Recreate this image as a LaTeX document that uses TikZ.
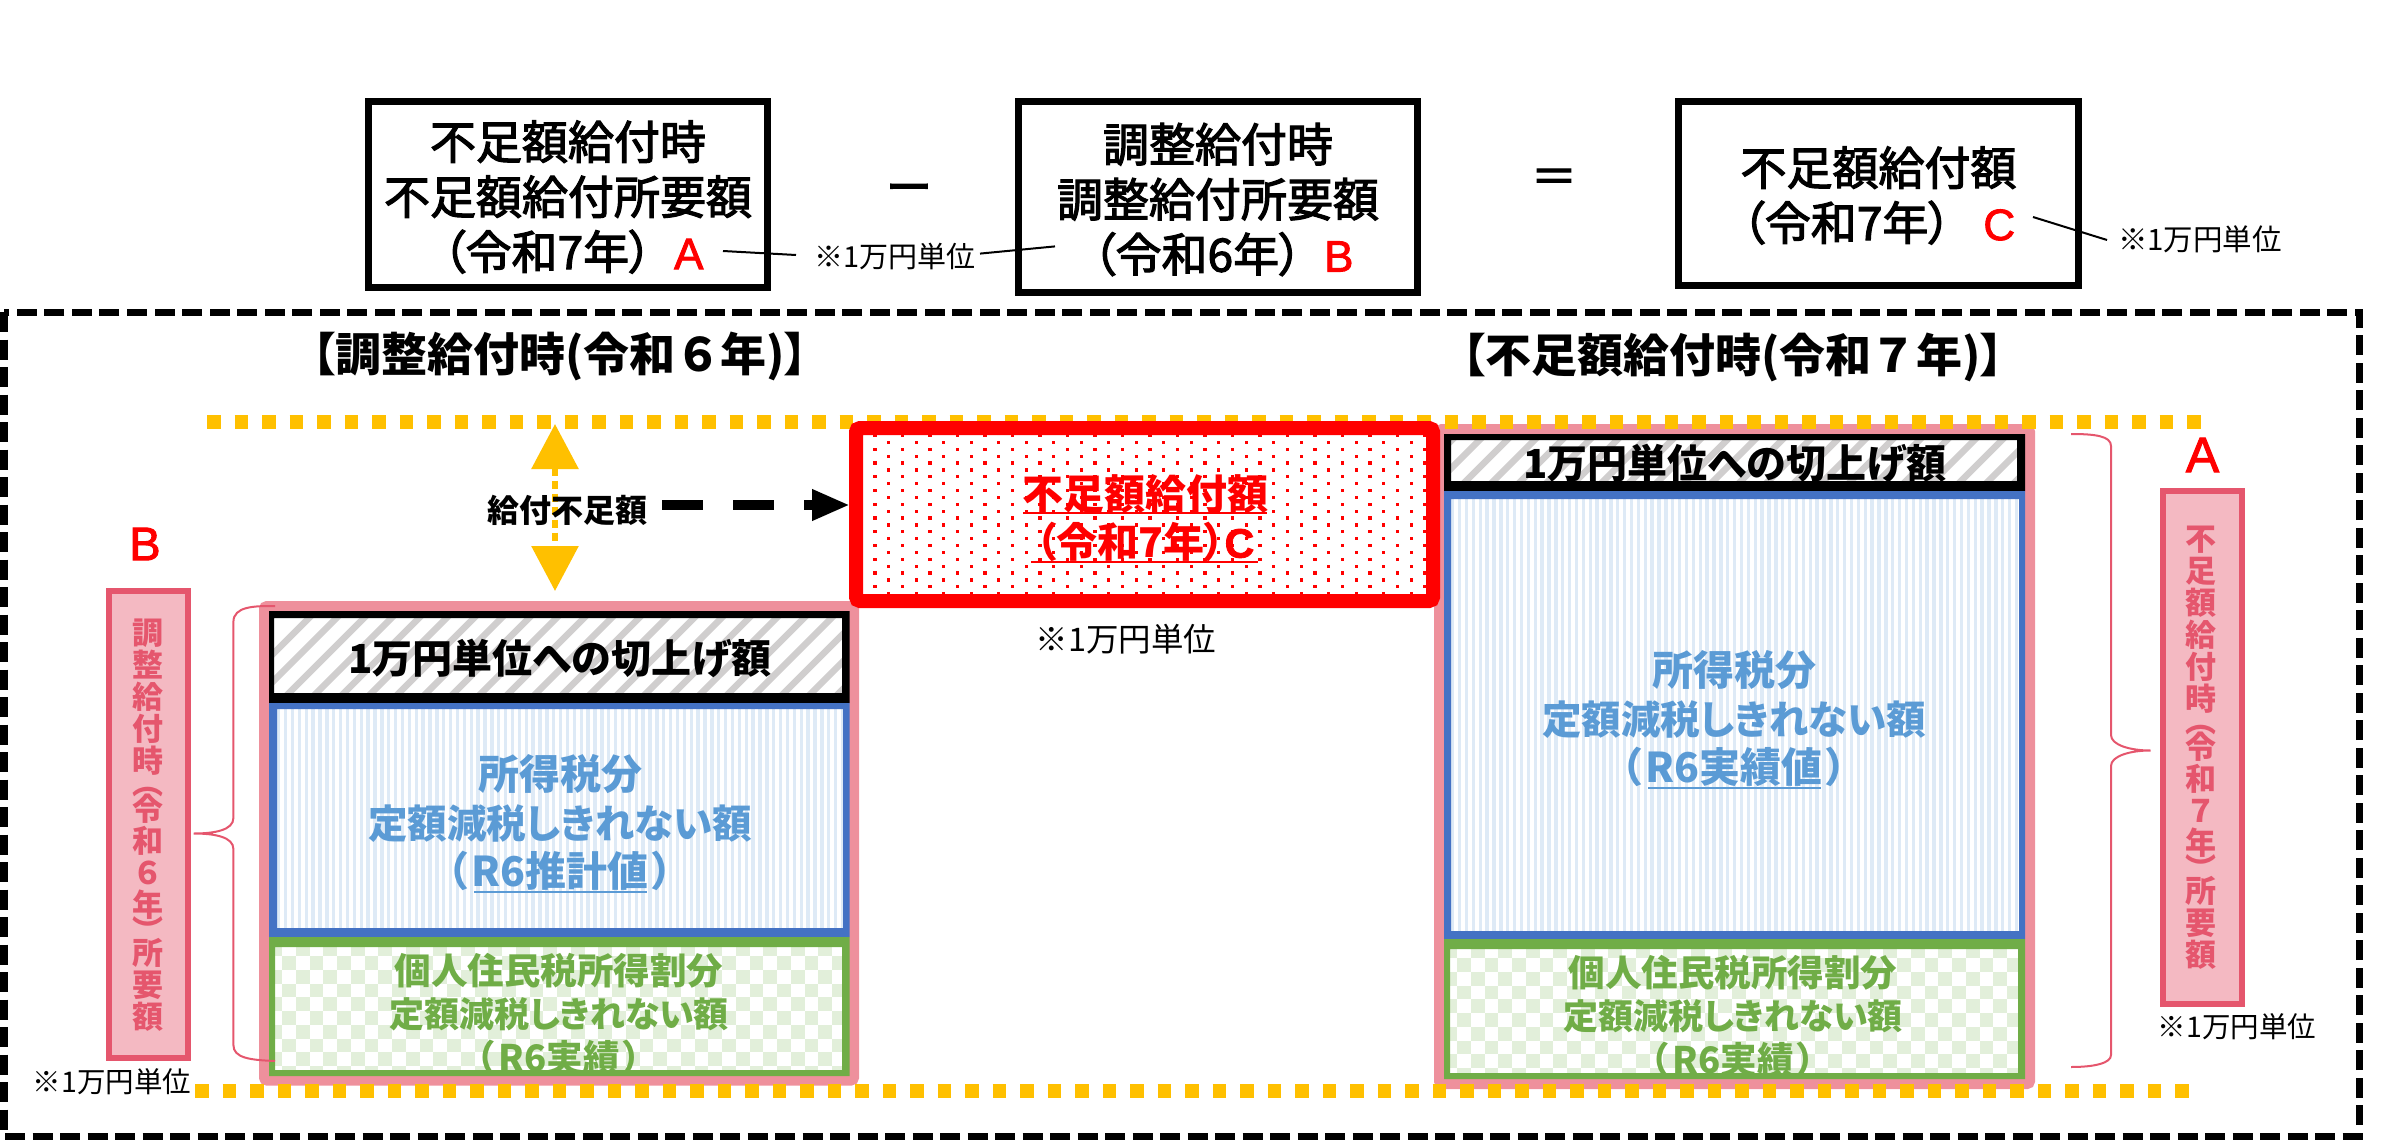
\documentclass[tikz,border=0pt]{standalone}
\usepackage{fontspec}
\usetikzlibrary{arrows.meta}
\setmainfont[RawFeature=+palt]{Noto Sans CJK JP}
\newfontfamily\vfont{Noto Sans CJK JP}
\newfontfamily\medf[RawFeature=+palt,FakeBold=2.5]{Noto Sans CJK JP}
\newfontfamily\lat{Liberation Sans}
\newfontfamily\latb[FakeBold=2]{Liberation Sans}
\definecolor{pinkF}{HTML}{EE909C}
\definecolor{rose}{HTML}{E5566D}
\definecolor{roseL}{HTML}{F4B9C2}
\definecolor{gold}{HTML}{FFC000}
\definecolor{blueF}{HTML}{4472C4}
\definecolor{blueT}{HTML}{5B9BD5}
\definecolor{blueL}{HTML}{DEEAF6}
\definecolor{greenF}{HTML}{70AD47}
\definecolor{greenL}{HTML}{E2EFDA}
\definecolor{hatch}{HTML}{D0CECE}
\newcommand{\fs}[2]{\fontsize{#1}{#2}\selectfont}
\newcommand{\frameit}[9]{\fill[#1,even odd rule] (#2,#3) rectangle (#4,#5) (#6,#7) rectangle (#8,#9);}
\newcommand{\vstripes}[4]{\begin{scope}\clip (#1,#2) rectangle (#3,#4);
  \foreach \i in {0,...,90} \fill[blueL] (#1+\i*6.875,#2) rectangle ++(3.44,#4-#2);\end{scope}}
\newcommand{\diag}[4]{\begin{scope}\clip (#1,#2) rectangle (#3,#4);
  \foreach \i in {0,...,26} \draw[hatch,line width=6.5pt] (#1-60+\i*27.5,#4+20) -- ++(100,-100);\end{scope}}
\newcommand{\checks}[6]{\begin{scope}\clip (#1,#2) rectangle (#3,#4);
  \foreach \j in {0,2,...,12} \foreach \i in {0,2,...,46}
    \fill[greenL] (#5+\i*13.75,#6+\j*13.75) rectangle ++(13.75,13.75);
  \foreach \j in {1,3,...,11} \foreach \i in {1,3,...,45}
    \fill[greenL] (#5+\i*13.75,#6+\j*13.75) rectangle ++(13.75,13.75);\end{scope}}
\newcommand{\redl}[1]{{\latb\color{red}\fs{44}{55}#1}}
\tikzset{
  topbox/.style={draw=black,line width=7pt,inner sep=0pt,outer sep=0pt},
  toptext/.style={inner sep=0pt,align=center,font=\medf\fs{46}{55}},
  note/.style={inner sep=0pt,font=\fs{#1}{30}},
  callout/.style={black,line width=2pt},
  head/.style={inner sep=0pt,font=\bfseries\fs{46}{50}},
  tag/.style={draw=rose,fill=roseL,line width=6pt,inner sep=0pt},
  vtext/.style={inner sep=0pt,align=center,text=rose,font=\vfont\bfseries\fs{31}{32}},
  bigl/.style={inner sep=0pt,text=red,font=\latb\fs{50}{50}},
  brace/.style={rose,line width=2pt},
  blk/.style={inner sep=0pt,align=center,font=\bfseries\fs{40}{48}},
  bluet/.style={inner sep=0pt,align=center,text=blueT,font=\bfseries\fs{41}{48.5}},
  greent/.style={inner sep=0pt,align=center,text=greenF,font=\bfseries\fs{36.5}{43.5}},
  goldline/.style={gold,line width=14pt,dash pattern=on 13.75pt off 13.75pt},
}
\begin{document}
\begin{tikzpicture}[x=1pt,y=-1pt]
\useasboundingbox (0,0) rectangle (2399,1140);
% top formula
\node[topbox,minimum width=399pt,minimum height=186pt] (boxA) at (568,194.5) {};
\node[toptext] (tA) at (568,197) {不足額給付時\\不足額給付所要額\\\hspace{10pt}（令和7年）\hspace{22pt}\redl{A}};
\node[topbox,minimum width=399pt,minimum height=191pt] (boxB) at (1218,197) {};
\node[toptext] (tB) at (1218,199.5) {調整給付時\\調整給付所要額\\\hspace{10pt}（令和6年）\hspace{22pt}\redl{B}};
\node[topbox,minimum width=400pt,minimum height=184pt] (boxC) at (1878.5,193.5) {};
\node[toptext] (tC) at (1878.5,195.5) {不足額給付額\\（令和7年）\hspace{32pt}\redl{C}};
\node[inner sep=0pt,font=\medf\fs{46}{50}] (minus) at (909,194) {ー};
\node[inner sep=0pt,font=\medf\fs{46}{50}] (equal) at (1554,181) {＝};
\node[note=29] (noteAB) at (895,256) {※1万円単位};
\node[note=29.5] (noteC) at (2200,239) {※1万円単位};
\coordinate (aFrom) at (723,251); \coordinate (aTo) at (796,255);
\coordinate (bFrom) at (980,253.6); \coordinate (bTo) at (1055,246.4);
\coordinate (cFrom) at (2033,217); \coordinate (cTo) at (2107,240);
\draw[callout] (aFrom) -- (aTo);
\draw[callout] (bFrom) -- (bTo);
\draw[callout] (cFrom) -- (cTo);
% outer dashed frame
\draw[black,line width=7pt,dash pattern=on 20pt off 7.5pt] (4,312) rectangle (2359,1136);
\node[head] (headL) at (560,356) {【調整給付時(令和\hspace{5pt}６\hspace{5pt}年)】};
\node[head] (headR) at (1733,357) {【不足額給付時(令和\hspace{5pt}７\hspace{5pt}年)】};
% pink frames
\draw[pinkF,line width=10pt,rounded corners=3pt] (264,606) rectangle (854,1080.5);
\draw[pinkF,line width=10pt,rounded corners=3pt] (1439,429) rectangle (2030,1084);
% gold lines
\draw[goldline] (207,422) -- (2201,422);
\draw[goldline] (195,1091) -- (2190,1091);
% red box
\node[draw=red,line width=14pt,rounded corners=4pt,minimum width=577pt,minimum height=173pt,inner sep=0pt,outer sep=0pt] (redbox) at (1144.5,514.5) {};
\begin{scope}
\clip (863,435) rectangle (1426.5,594);
\foreach \j in {0,2,...,24} \foreach \i in {0,...,21}
  \fill[red] (873.4+\i*27.5,433.95+\j*6.875) rectangle ++(3.2,3.2);
\foreach \j in {1,3,...,23} \foreach \i in {0,...,21}
  \fill[red] (887.15+\i*27.5,433.95+\j*6.875) rectangle ++(3.2,3.2);
\end{scope}
\node[inner sep=0pt,text=red,font=\bfseries\fs{41}{48}] (redA) at (1145,494) {不足額給付額};
\node[inner sep=0pt,text=red,font=\bfseries\fs{41}{48}] (redB) at (1145,542) {（令和7年）{\latb C}};
\draw[red,line width=2pt] (1023,513) -- (1267,513);
\draw[red,line width=2pt] (1031,562) -- (1258,562);
\node[note=32.5] (noteRed) at (1126,639) {※1万円単位};
% shortage arrows
\coordinate (gTop) at (555,424); \coordinate (gBot) at (555,591);
\draw[gold,line width=6pt,dash pattern=on 8pt off 5pt,{Triangle[width=46pt,length=45pt]}-{Triangle[width=46pt,length=45pt]}] (gTop) -- (gBot);
\node[inner sep=0pt,font=\bfseries\fs{32}{34}] (short) at (567,510) {給付不足額};
\coordinate (bkStart) at (662,505);
\draw[black,line width=10.5pt,dash pattern=on 41pt off 30pt,-{Triangle[width=29pt,length=38pt]},shorten >=6pt] (bkStart) -- (redbox.west |- bkStart);
% left stack
\vstripes{277}{709}{843}{928}
\diag{274}{618}{842}{693}
\checks{275}{947}{842}{1070}{268.25}{942.25}
\node[blk] (lH) at (560,658) {1万円単位への切上げ額};
\node[bluet] (lB) at (560,823) {所得税分\\{\fs{39.5}{48.5}定額減税しきれない額}\\（\hspace{4pt}R6推計値\hspace{4pt}）};
\draw[blueT,line width=2pt] (474,892) -- (647,892);
\node[greent,anchor=north] (lG) at (559,953) {個人住民税所得割分\\{\fs{35}{43.5}定額減税しきれない額}\\（\hspace{4pt}R6実績\hspace{4pt}）};
\frameit{black}{269}{611}{849.5}{703}{274}{618}{842}{693}
\frameit{blueF}{269}{703}{849.5}{937}{277}{709}{843}{928}
\frameit{greenF}{269}{937}{849.5}{1076}{275}{947}{842}{1070}
% right stack
\vstripes{1451}{499}{2019}{931}
\diag{1451}{440}{2017}{481}
\checks{1450}{949}{2018}{1073}{1443.25}{944.25}
\node[blk] (rH) at (1735,463) {1万円単位への切上げ額};
\node[bluet] (rB) at (1734,719) {所得税分\\{\fs{39.5}{48.5}定額減税しきれない額}\\（\hspace{4pt}R6実績値\hspace{4pt}）};
\draw[blueT,line width=2pt] (1648,788) -- (1821,788);
\node[greent,anchor=north] (rG) at (1733,955) {個人住民税所得割分\\{\fs{35}{43.5}定額減税しきれない額}\\（\hspace{4pt}R6実績\hspace{4pt}）};
\frameit{black}{1444}{434}{2025}{491}{1451}{440}{2017}{481}
\frameit{blueF}{1444}{491}{2025}{939}{1451}{499}{2019}{931}
\frameit{greenF}{1444}{939}{2025}{1079}{1450}{949}{2018}{1073}
% side labels
\node[tag,minimum width=79pt,minimum height=467pt] (tagL) at (148.5,824.5) {};
\node[vtext] (tagLt) at (148,825) {調\\整\\給\\付\\時\\[-10pt]︵\\[-6pt]令\\和\\６\\年\\[-6pt]︶\\[-10pt]所\\要\\額};
\node[bigl,font=\latb\fs{47}{47}] (bigB) at (145,544) {B};
\node[note=28.5] (noteL) at (112,1082) {※1万円単位};
\node[tag,minimum width=79pt,minimum height=513pt] (tagR) at (2202.5,747.5) {};
\node[vtext] (tagRt) at (2201,747.5) {不\\足\\額\\給\\付\\時\\[-10pt]︵\\[-6pt]令\\和\\７\\年\\[-6pt]︶\\[-10pt]所\\要\\額};
\node[bigl] (bigA) at (2202.5,455) {A};
\node[note=28.5] (noteR) at (2237,1027) {※1万円単位};
% braces
\coordinate (bLa) at (275,606); \coordinate (bLb) at (193.6,833.5); \coordinate (bLc) at (275,1061);
\draw[brace] (bLa) .. controls (255,606) and (233.4,606) .. (233.4,622) -- (233.4,818)
  .. controls (233.4,830) and (215,833.5) .. (bLb) .. controls (215,833.5) and (233.4,837) .. (233.4,849)
  -- (233.4,1045) .. controls (233.4,1058) and (250,1060) .. (bLc);
\coordinate (bRa) at (2071,434); \coordinate (bRb) at (2150.5,750.5); \coordinate (bRc) at (2071,1067);
\draw[brace] (bRa) .. controls (2095,434) and (2111,436) .. (2111,446) -- (2111,735)
  .. controls (2111,745) and (2130,750.5) .. (bRb) .. controls (2130,750.5) and (2111,756) .. (2111,766)
  -- (2111,1055) .. controls (2111,1063) and (2095,1067) .. (bRc);
\end{tikzpicture}
\end{document}
